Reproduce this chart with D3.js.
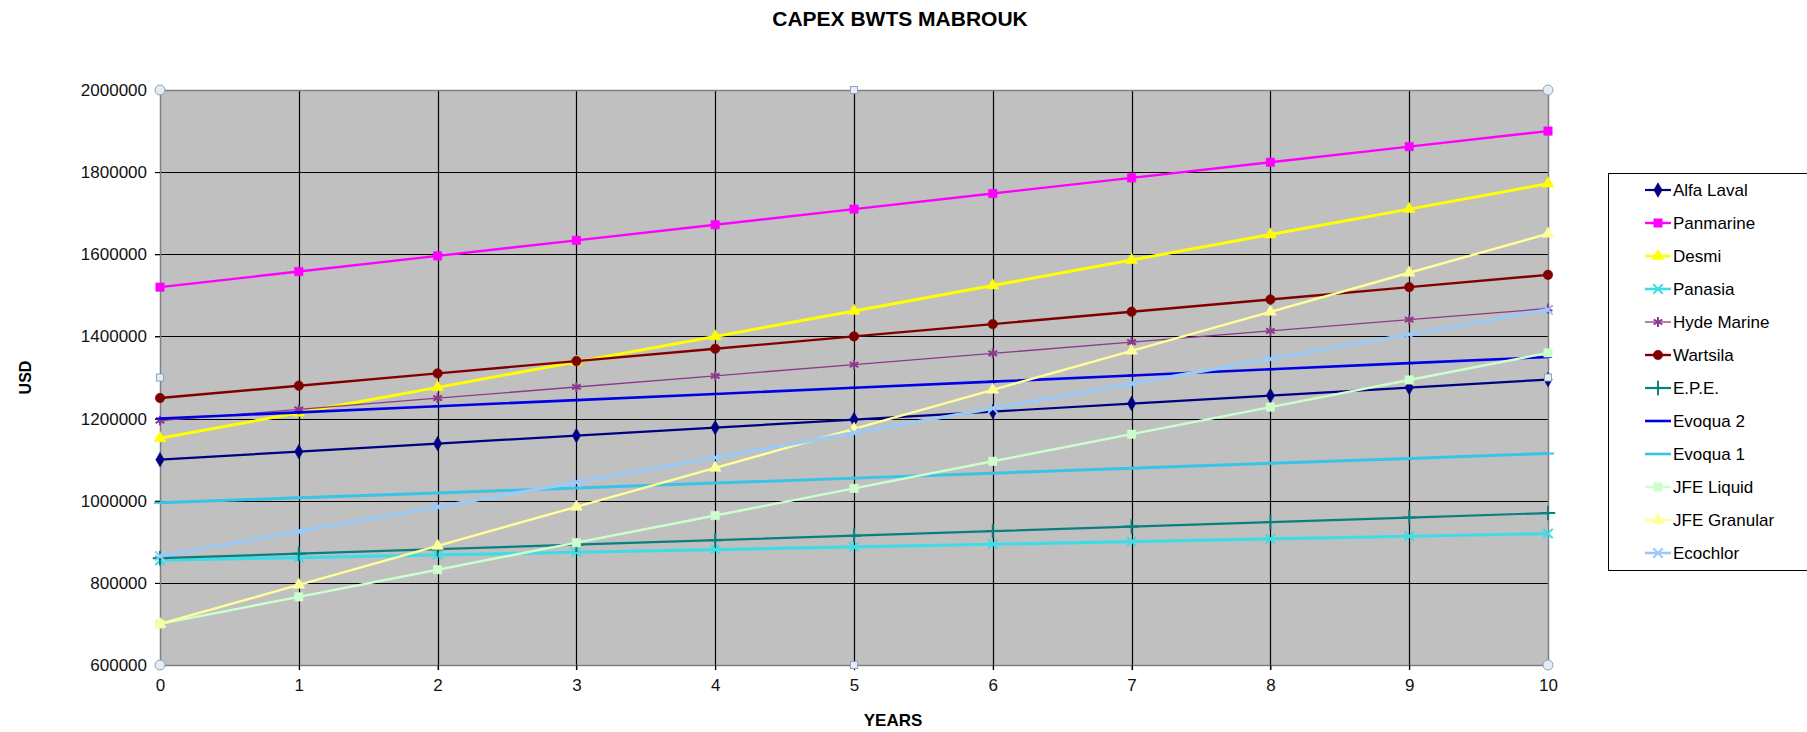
<!DOCTYPE html>
<html>
<head>
<meta charset="utf-8">
<script src="https://cdn.jsdelivr.net/npm/d3@7/dist/d3.min.js"></script>
<style>
  html, body { margin: 0; padding: 0; background: #ffffff; overflow: hidden; }
  svg { display: block; font-family: "Liberation Sans", Arial, sans-serif; }
</style>
</head>
<body>
<svg id="chart" width="1807" height="732"></svg>
<script>
// Years on the horizontal axis
const years = [0, 1, 2, 3, 4, 5, 6, 7, 8, 9, 10];
const yTicks = [600000, 800000, 1000000, 1200000, 1400000, 1600000, 1800000, 2000000];

// CAPEX per supplier (USD), one value per year
const alfaLaval   = [1100000, 1119500, 1139000, 1158500, 1178000, 1197500, 1217000, 1236500, 1256000, 1275500, 1295000];
const panmarine   = [1520000, 1558000, 1596000, 1634000, 1672000, 1710000, 1748000, 1786000, 1824000, 1862000, 1900000];
const desmi       = [1152000, 1214000, 1276000, 1338000, 1400000, 1462000, 1524000, 1586000, 1648000, 1710000, 1772000];
const panasia     = [855000, 861500, 868000, 874500, 881000, 887500, 894000, 900500, 907000, 913500, 920000];
const hydeMarine  = [1195000, 1222300, 1249600, 1276900, 1304200, 1331500, 1358800, 1386100, 1413400, 1440700, 1468000];
const wartsila    = [1250000, 1280000, 1310000, 1340000, 1370000, 1400000, 1430000, 1460000, 1490000, 1520000, 1550000];
const epe         = [860000, 871000, 882000, 893000, 904000, 915000, 926000, 937000, 948000, 959000, 970000];
const evoqua2     = [1200000, 1215000, 1230000, 1245000, 1260000, 1275000, 1290000, 1305000, 1320000, 1335000, 1350000];
const evoqua1     = [995000, 1007000, 1019000, 1031000, 1043000, 1055000, 1067000, 1079000, 1091000, 1103000, 1115000];
const jfeLiquid   = [700000, 766000, 832000, 898000, 964000, 1030000, 1096000, 1162000, 1228000, 1294000, 1360000];
const jfeGranular = [700000, 795000, 890000, 985000, 1080000, 1175000, 1270000, 1365000, 1460000, 1555000, 1650000];
const ecochlor    = [865000, 925000, 985000, 1045000, 1105000, 1165000, 1225000, 1285000, 1345000, 1405000, 1465000];

const seriesNames = ["Alfa Laval", "Panmarine", "Desmi", "Panasia", "Hyde Marine", "Wartsila",
                     "E.P.E.", "Evoqua 2", "Evoqua 1", "JFE Liquid", "JFE Granular", "Ecochlor"];
const seriesValues = [alfaLaval, panmarine, desmi, panasia, hydeMarine, wartsila,
                      epe, evoqua2, evoqua1, jfeLiquid, jfeGranular, ecochlor];

// Line colour, width and marker for each series
const styles = [
  { color: "#000080", width: 2.2, marker: "diamond" },
  { color: "#ff00ff", width: 2.4, marker: "square" },
  { color: "#ffff00", width: 3,   marker: "triangle" },
  { color: "#40dce6", width: 3.2, marker: "times" },
  { color: "#8b3a8b", width: 1.3, marker: "asterisk" },
  { color: "#800000", width: 2.4, marker: "circle" },
  { color: "#0a7f7f", width: 2.2, marker: "plus" },
  { color: "#0000e6", width: 2.6, marker: "dash" },
  { color: "#38c4e6", width: 3,   marker: "longdash" },
  { color: "#ccffcc", width: 2.4, marker: "square" },
  { color: "#ffff99", width: 2.4, marker: "triangle" },
  { color: "#9ccaf5", width: 3.4, marker: "times" }
];

const series = seriesNames.map((name, i) => ({
  name, values: seriesValues[i].map((v, j) => ({ x: years[j], y: v })), ...styles[i]
}));

const svg = d3.select("#chart");
const plot = { left: 160, right: 1548, top: 90, bottom: 665 };

const x = d3.scaleLinear().domain([0, 10]).range([plot.left, plot.right]);
const y = d3.scaleLinear().domain([600000, 2000000]).range([plot.bottom, plot.top]);

// Plot area background
svg.append("rect")
  .attr("x", plot.left).attr("y", plot.top)
  .attr("width", plot.right - plot.left).attr("height", plot.bottom - plot.top)
  .attr("fill", "#c0c0c0");

// Gridlines
const grid = svg.append("g").attr("stroke", "#000").attr("stroke-width", 1.2);
grid.selectAll("line.h").data(yTicks.slice(1, -1)).join("line")
  .attr("class", "h")
  .attr("x1", plot.left - 5).attr("x2", plot.right)
  .attr("y1", d => Math.round(y(d)) + 0.5).attr("y2", d => Math.round(y(d)) + 0.5);
grid.selectAll("line.v").data(years.slice(1, -1)).join("line")
  .attr("class", "v")
  .attr("x1", d => Math.round(x(d)) + 0.5).attr("x2", d => Math.round(x(d)) + 0.5)
  .attr("y1", plot.top).attr("y2", plot.bottom + 5);

// Plot border
svg.append("rect")
  .attr("x", plot.left + 0.5).attr("y", plot.top + 0.5)
  .attr("width", plot.right - plot.left).attr("height", plot.bottom - plot.top)
  .attr("fill", "none").attr("stroke", "#808080").attr("stroke-width", 1.5);

// Axes
const yAxis = d3.axisLeft(y).tickValues(yTicks).tickFormat(d3.format("d")).tickSize(5).tickPadding(8);
const yg = svg.append("g").attr("transform", `translate(${plot.left},0)`).call(yAxis);
yg.select(".domain").remove();
yg.selectAll("line").attr("stroke", "#000");
yg.selectAll("text").attr("font-size", 17).attr("fill", "#111").attr("font-family", "Liberation Sans, Arial, sans-serif");

const xAxis = d3.axisBottom(x).tickValues(years).tickFormat(d3.format("d")).tickSize(5).tickPadding(9);
const xg = svg.append("g").attr("transform", `translate(0,${plot.bottom})`).call(xAxis);
xg.select(".domain").remove();
xg.selectAll("line").attr("stroke", "#000");
xg.selectAll("text").attr("font-size", 17).attr("fill", "#111").attr("font-family", "Liberation Sans, Arial, sans-serif");

// Marker shapes
function markerPath(type) {
  switch (type) {
    case "diamond":  return d3.symbol(d3.symbolDiamond, 60)();
    case "square":   return d3.symbol(d3.symbolSquare, 70)();
    case "triangle": return d3.symbol(d3.symbolTriangle, 60)();
    case "circle":   return d3.symbol(d3.symbolCircle, 70)();
    case "times":    return d3.symbol(d3.symbolTimes, 60)();
    case "asterisk": return d3.symbol(d3.symbolAsterisk, 70)();
    case "plus":     return d3.symbol(d3.symbolPlus, 70)();
    case "dash":     return "M-4,0H4";
    case "longdash": return "M-6,0H6";
    default:         return null;
  }
}
const strokeMarkers = new Set(["times", "asterisk", "plus", "dash", "longdash"]);

function drawMarker(sel, s) {
  const p = markerPath(s.marker);
  if (!p) return;
  const isStroke = strokeMarkers.has(s.marker);
  sel.append("path")
    .attr("d", p)
    .attr("fill", isStroke ? "none" : s.color)
    .attr("stroke", s.color)
    .attr("stroke-width", isStroke ? 2 : 0.6);
}

// Series lines and markers
const line = d3.line().x(d => x(d.x)).y(d => y(d.y));
const gSeries = svg.append("g");
series.forEach(s => {
  const g = gSeries.append("g");
  g.append("path")
    .datum(s.values)
    .attr("d", line)
    .attr("fill", "none")
    .attr("stroke", s.color)
    .attr("stroke-width", s.width)
    .attr("stroke-linejoin", "round");
  g.selectAll("g.pt").data(s.values).join("g")
    .attr("class", "pt")
    .attr("transform", d => `translate(${x(d.x)},${y(d.y)})`)
    .each(function () { drawMarker(d3.select(this), s); });
});

// Selection handles around the plot area
const handleCircles = [[0, 2000000], [10, 2000000], [0, 600000], [10, 600000]];
const handleSquares = [[5, 2000000], [5, 600000], [0, 1300000], [10, 1300000]];
svg.append("g").selectAll("circle").data(handleCircles).join("circle")
  .attr("cx", d => x(d[0])).attr("cy", d => y(d[1])).attr("r", 5)
  .attr("fill", "#e4ecf5").attr("stroke", "#8ea4bc").attr("stroke-width", 1);
svg.append("g").selectAll("rect").data(handleSquares).join("rect")
  .attr("x", d => x(d[0]) - 3.5).attr("y", d => y(d[1]) - 3.5)
  .attr("width", 7).attr("height", 7)
  .attr("fill", "#e4ecf5").attr("stroke", "#8ea4bc").attr("stroke-width", 1);

// Title and axis titles
svg.append("text")
  .attr("x", 900).attr("y", 26)
  .attr("text-anchor", "middle")
  .attr("font-size", 21).attr("font-weight", "bold")
  .text("CAPEX BWTS MABROUK");

svg.append("text")
  .attr("transform", `translate(31,${(plot.top + plot.bottom) / 2}) rotate(-90)`)
  .attr("text-anchor", "middle")
  .attr("font-size", 16).attr("font-weight", "bold")
  .text("USD");

svg.append("text")
  .attr("x", 893).attr("y", 726)
  .attr("text-anchor", "middle")
  .attr("font-size", 17).attr("font-weight", "bold")
  .text("YEARS");

// Legend (box runs on past the right edge of the canvas)
const legend = { left: 1608, top: 173, right: 1812, bottom: 570, firstRow: 190, rowGap: 33 };
svg.append("rect")
  .attr("x", legend.left + 0.5).attr("y", legend.top + 0.5)
  .attr("width", legend.right - legend.left).attr("height", legend.bottom - legend.top)
  .attr("fill", "#fff").attr("stroke", "#000").attr("stroke-width", 1);

const items = svg.append("g").selectAll("g").data(series).join("g")
  .attr("transform", (d, i) => `translate(${legend.left + 37},${legend.firstRow + i * legend.rowGap})`);
items.append("line")
  .attr("x1", 0).attr("x2", 26).attr("y1", 0).attr("y2", 0)
  .attr("stroke", d => d.color).attr("stroke-width", d => Math.min(d.width, 2.6));
items.each(function (d) {
  const g = d3.select(this).append("g").attr("transform", "translate(13,0)");
  drawMarker(g, d);
});
items.append("text")
  .attr("x", 28).attr("y", 6)
  .attr("font-size", 17).attr("fill", "#000")
  .text(d => d.name);
</script>
</body>
</html>
